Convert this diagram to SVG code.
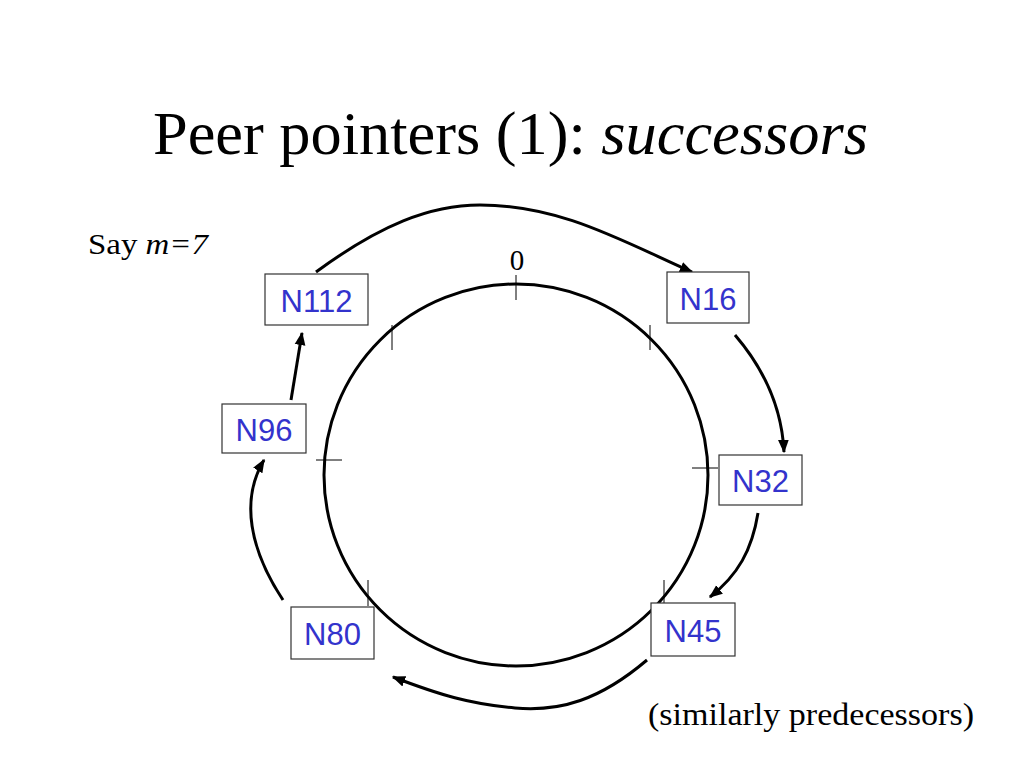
<svg xmlns="http://www.w3.org/2000/svg" width="1024" height="768" viewBox="0 0 1024 768">
<defs>
<marker id="ah" viewBox="0 0 10 10" refX="9" refY="5" markerWidth="4.5" markerHeight="4.5" orient="auto" markerUnits="strokeWidth">
<path d="M0,1 L10,5 L0,9 z" fill="#000"/>
</marker>
</defs>
<style>
.serif{font-family:"Liberation Serif","Times New Roman",serif;fill:#000}
.node rect{fill:#fff;stroke:#333;stroke-width:1.2}
.node text{font-family:"Liberation Sans",Arial,sans-serif;font-size:31px;fill:#3333cc;text-anchor:middle}
.conn path{fill:none;stroke:#000;stroke-width:3;marker-end:url(#ah)}
.tick{stroke:#000;stroke-width:1}
</style>
<rect width="1024" height="768" fill="#fff"/>
<text class="serif" x="153" y="154" font-size="62" textLength="715" lengthAdjust="spacingAndGlyphs">Peer pointers (1): <tspan font-style="italic">successors</tspan></text>
<text class="serif" x="88" y="254" font-size="30" textLength="120" lengthAdjust="spacingAndGlyphs">Say <tspan font-style="italic">m=7</tspan></text>
<text class="serif" x="517" y="270" font-size="29" text-anchor="middle">0</text>
<text class="serif" x="648" y="725" font-size="31" textLength="326" lengthAdjust="spacingAndGlyphs">(similarly predecessors)</text>
<g id="ring">
<ellipse cx="516" cy="475" rx="192" ry="191" fill="none" stroke="#000" stroke-width="3"/>
<line class="tick" x1="516" y1="275" x2="516" y2="300"/>
<line class="tick" x1="392" y1="325" x2="392" y2="350"/>
<line class="tick" x1="650" y1="325" x2="650" y2="350"/>
<line class="tick" x1="316" y1="460" x2="342" y2="460"/>
<line class="tick" x1="692" y1="468" x2="718" y2="468"/>
<line class="tick" x1="368" y1="580" x2="368" y2="606"/>
<line class="tick" x1="664" y1="580" x2="664" y2="606"/>
</g>
<g class="conn" id="connectors">
<path d="M316,272 C380,225 430,205 480,205 C560,205 620,240 692,272"/>
<path d="M735,335 C765,370 782,410 784,452"/>
<path d="M758,513 C752,550 738,575 710,597"/>
<path d="M647,660 C600,700 560,712 515,708 C470,704 440,695 393,677"/>
<path d="M283,600 C250,550 240,500 264,460"/>
<path d="M291,400 L302,333"/>
</g>
<g class="node" id="N112"><rect x="265" y="274" width="103" height="51"/><text x="316.5" y="312">N112</text></g>
<g class="node" id="N16"><rect x="667" y="272" width="82" height="51"/><text x="708" y="310">N16</text></g>
<g class="node" id="N96"><rect x="222" y="404" width="84" height="49"/><text x="264" y="441">N96</text></g>
<g class="node" id="N32"><rect x="719" y="455" width="83" height="50"/><text x="760.5" y="492">N32</text></g>
<g class="node" id="N80"><rect x="291" y="607" width="83" height="52"/><text x="332.5" y="645">N80</text></g>
<g class="node" id="N45"><rect x="651" y="603" width="84" height="53"/><text x="693" y="642">N45</text></g>
</svg>
